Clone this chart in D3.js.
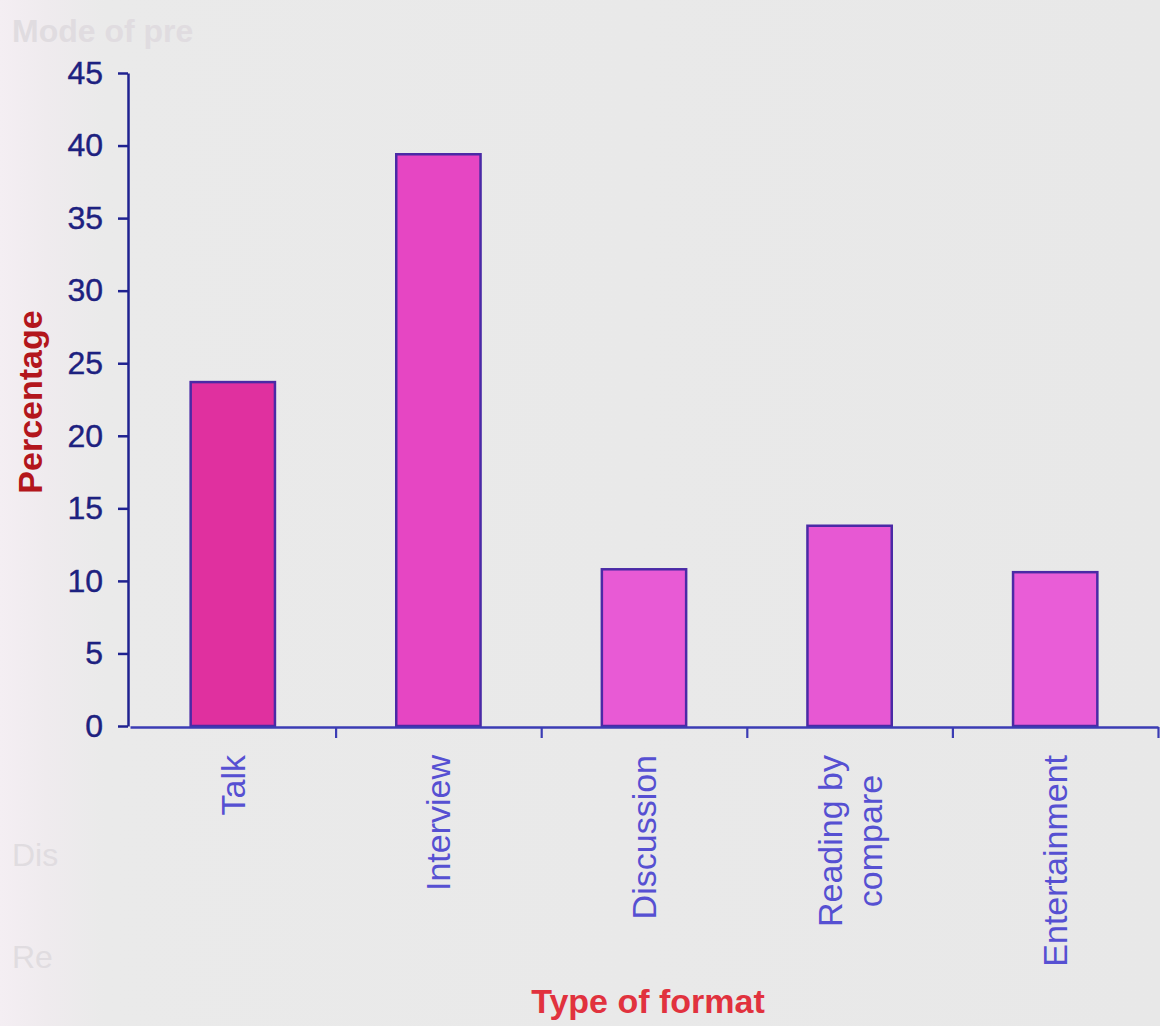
<!DOCTYPE html>
<html>
<head>
<meta charset="utf-8">
<script src="https://cdn.jsdelivr.net/npm/d3@7"></script>
<style>
  html, body { margin: 0; padding: 0; background: #e9e9e9; }
  svg { display: block; }
  text { font-family: "Liberation Sans", Arial, sans-serif; }
</style>
</head>
<body>
<div id="chart"></div>
<script>
// data
const formats = ['Talk', 'Interview', 'Discussion', 'Reading by compare', 'Entertainment'];
const percentages = [23.7, 39.4, 10.8, 13.8, 10.6];
const yTicks = [0, 5, 10, 15, 20, 25, 30, 35, 40, 45];
// label lines for the rotated category names
const formatLines = [['Talk'], ['Interview'], ['Discussion'], ['Reading by', 'compare'], ['Entertainment']];
// faint text showing through from the other side of the page
const ghostText = ['Mode of pre', 'Dis', 'Re'];

const barColors = ['#e0309f', '#e646c3', '#e85ad5', '#e758d3', '#e95dd7'];

const width = 1160, height = 1026;

const svg = d3.select('#chart')
  .append('svg')
  .attr('width', width)
  .attr('height', height);

// paper background, a bit whiter along the left edge
const grad = svg.append('defs').append('linearGradient')
  .attr('id', 'paper')
  .attr('x1', 0).attr('x2', 1).attr('y1', 0).attr('y2', 0);
grad.append('stop').attr('offset', '0%').attr('stop-color', '#f4eef3');
grad.append('stop').attr('offset', '4%').attr('stop-color', '#efebee');
grad.append('stop').attr('offset', '9%').attr('stop-color', '#eaeaea');
grad.append('stop').attr('offset', '100%').attr('stop-color', '#e8e8e8');
svg.append('rect')
  .attr('width', width).attr('height', height)
  .attr('fill', 'url(#paper)');

// show-through text
const ghostX = [12, 12, 12];
const ghostY = [42, 866, 968];
svg.append('g')
  .selectAll('text')
  .data(ghostText)
  .enter()
  .append('text')
  .attr('x', (d, i) => ghostX[i])
  .attr('y', (d, i) => ghostY[i])
  .attr('font-size', 32)
  .attr('font-weight', (d, i) => i == 0 ? 'bold' : 'normal')
  .attr('fill', '#e0dce0')
  .text(d => d);

const xScale = d3.scaleBand()
  .domain(formats)
  .range([130, 1158])
  .paddingInner(0.59)
  .paddingOuter(0.295);

const yScale = d3.scaleLinear()
  .domain([0, 45])
  .range([726, 73]);

// bars
svg.append('g')
  .selectAll('rect')
  .data(percentages)
  .enter()
  .append('rect')
  .attr('x', (d, i) => xScale(formats[i]))
  .attr('y', d => yScale(d))
  .attr('width', xScale.bandwidth())
  .attr('height', d => yScale(0) - yScale(d))
  .attr('fill', (d, i) => barColors[i])
  .attr('stroke', '#4a2aa6')
  .attr('stroke-width', 2.5);

// y axis
const yAxis = d3.axisLeft(yScale)
  .tickValues(yTicks)
  .tickFormat(d3.format('d'))
  .tickSize(10)
  .tickPadding(15)
  .tickSizeOuter(0);

const yg = svg.append('g')
  .attr('transform', 'translate(128,0)')
  .call(yAxis);
yg.select('.domain').attr('stroke', '#1f2290').attr('stroke-width', 2.5);
yg.selectAll('.tick line').attr('stroke', '#1f2290').attr('stroke-width', 2.5);
yg.selectAll('.tick text')
  .attr('fill', '#1d2180')
  .attr('font-size', 32)
  .attr('stroke', '#1d2180')
  .attr('stroke-width', 0.4)
  .attr('font-family', '"Liberation Sans", Arial, sans-serif');

// x axis with ticks between categories
const step = xScale.step();
const boundaries = d3.range(1, formats.length + 1).map(i => 130 + i * step);
const xAxisScale = d3.scaleLinear().domain([130, 1158]).range([130, 1158]);
const xAxis = d3.axisBottom(xAxisScale)
  .tickValues(boundaries)
  .tickFormat('')
  .tickSize(11)
  .tickSizeOuter(0);
const xg = svg.append('g')
  .attr('transform', `translate(0, ${yScale(0) + 1})`)
  .call(xAxis);
xg.select('.domain').attr('stroke', '#3b3cb4').attr('stroke-width', 2.5);
xg.selectAll('.tick line').attr('stroke', '#3b3cb4').attr('stroke-width', 2.2);

// rotated category labels
const labelTop = 755;
const labels = svg.append('g')
  .selectAll('g')
  .data(formatLines)
  .enter()
  .append('g')
  .attr('transform', (d, i) => `translate(${xScale(formats[i]) + xScale.bandwidth() / 2}, ${labelTop}) rotate(-90)`);

labels.each(function(lines) {
  const g = d3.select(this);
  const texts = lines.map((line, j) => g.append('text')
    .attr('font-size', 34)
    .attr('fill', '#5650d2')
    .attr('text-anchor', 'middle')
    .attr('dominant-baseline', 'central')
    .attr('y', (j - (lines.length - 1) / 2) * 40)
    .text(line));
  const maxLen = d3.max(texts, t => t.node().getComputedTextLength());
  texts.forEach(t => t.attr('x', -maxLen / 2));
});

// axis titles
svg.append('text')
  .attr('transform', 'translate(30, 402) rotate(-90)')
  .attr('text-anchor', 'middle')
  .attr('dominant-baseline', 'central')
  .attr('font-size', 34)
  .attr('font-weight', 'bold')
  .attr('fill', '#b3161c')
  .text('Percentage');

svg.append('text')
  .attr('x', 648)
  .attr('y', 1013)
  .attr('text-anchor', 'middle')
  .attr('font-size', 34)
  .attr('font-weight', 'bold')
  .attr('fill', '#e1323e')
  .text('Type of format');
</script>
</body>
</html>
